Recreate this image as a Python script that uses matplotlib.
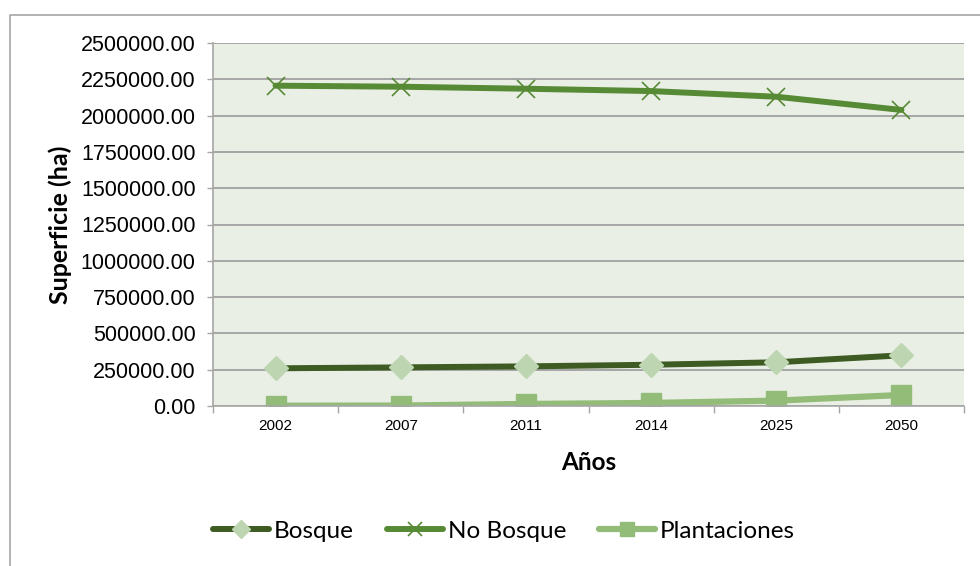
import matplotlib.pyplot as plt
from matplotlib.lines import Line2D
from matplotlib.ticker import FormatStrFormatter

years = ["2002", "2007", "2011", "2014", "2025", "2050"]
bosque = [259600, 266000, 273000, 284000, 301000, 349000]
no_bosque = [2206000, 2199000, 2185000, 2169000, 2130000, 2039000]
plantaciones = [2000, 3000, 14000, 21000, 37000, 76000]

fig = plt.figure(figsize=(9.8, 5.66), dpi=100)
ax = fig.add_axes([213 / 980, 1 - 406 / 566, (964 - 213) / 980, (406 - 43) / 566])
ax.set_facecolor("#EAEFE6")

x = list(range(len(years)))
ax.plot(x, bosque, color="#3D5B22", lw=4.3, marker="D", ms=12,
        mfc="#BDD5B0", mec="#BDD5B0", label="Bosque", solid_capstyle="round")
ax.plot(x, no_bosque, color="#578A35", lw=4.3, marker="x", ms=13, mew=1.2,
        mec="#578A35", label="No Bosque", solid_capstyle="round")
ax.plot(x, plantaciones, color="#93BC78", lw=4.5, marker="s", ms=14,
        mfc="#93BC78", mec="#93BC78", label="Plantaciones", solid_capstyle="round")

ax.set_xlim(-0.5, 5.5)
ax.set_ylim(0, 2500000)
ax.set_yticks(range(0, 2500001, 250000))
ax.yaxis.set_major_formatter(FormatStrFormatter("%.2f"))
ax.grid(axis="y", color="#A6A6A6", lw=1.4)
ax.set_axisbelow(True)

ax.set_xticks(x)
ax.set_xticklabels(years, fontsize=11, family="Liberation Sans")
ax.set_xticks([i - 0.5 for i in range(7)], minor=True)
ax.tick_params(axis="x", which="major", length=0, pad=9)
ax.tick_params(axis="x", which="minor", length=5, color="#A6A6A6", width=1)
ax.tick_params(axis="y", length=4, color="#A6A6A6", width=1, pad=8.5)
for lab in ax.get_yticklabels():
    lab.set_family("Liberation Sans")
    lab.set_fontsize(15.5)

for s in ["top", "right"]:
    ax.spines[s].set_visible(False)
for s in ["left", "bottom"]:
    ax.spines[s].set_color("#A6A6A6")
    ax.spines[s].set_linewidth(1.2)

ax.set_xlabel("Años", fontsize=17.5, fontweight="bold", family="Lato", labelpad=13)
ax.set_ylabel("Superficie (ha)", fontsize=18, fontweight="bold", family="Lato", labelpad=6)

fig.add_artist(Line2D([10 / 980, 10 / 980, 1], [0, 1 - 15 / 566, 1 - 15 / 566],
                      color="#A6A6A6", lw=1.2, transform=fig.transFigure))

fig.legend(loc="center", bbox_to_anchor=(504 / 980, 1 - 531 / 566), ncol=3,
           frameon=False, prop={"family": "Lato", "size": 17.5}, markerscale=0.75,
           handlelength=2.3, handletextpad=0.2, columnspacing=1.35)

fig.savefig("out.png", dpi=100)
